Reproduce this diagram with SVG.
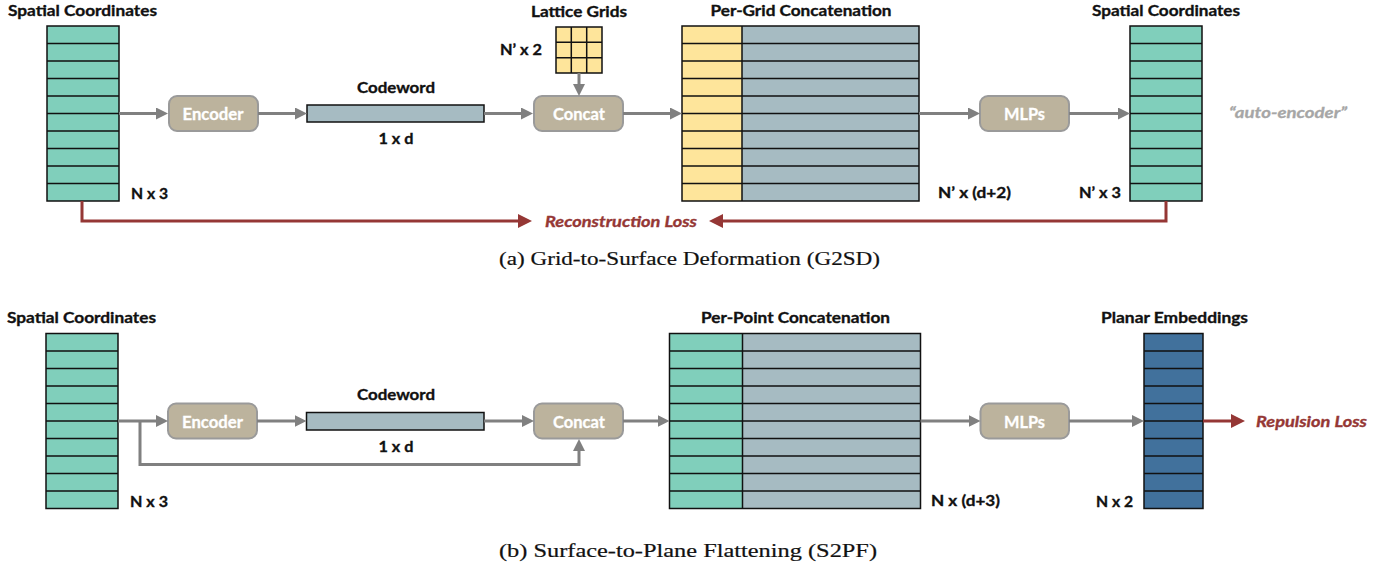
<svg xmlns="http://www.w3.org/2000/svg" width="1398" height="569" viewBox="0 0 1398 569">
<style>
.lbl{font-family:Lato,"Open Sans","Liberation Sans",sans-serif;font-weight:bold;font-size:16px;fill:#111;stroke:#111;stroke-width:0.35}
.btn{font-family:Lato,"Open Sans","Liberation Sans",sans-serif;font-weight:bold;font-size:17px;fill:#fff;stroke:#fff;stroke-width:0.3}
.loss{font-family:Lato,"Open Sans","Liberation Sans",sans-serif;font-weight:bold;font-style:italic;font-size:16px;fill:#953735;stroke:#953735;stroke-width:0.35}
.ae{font-family:Lato,"Open Sans","Liberation Sans",sans-serif;font-weight:bold;font-style:italic;font-size:16px;fill:#a6a6a6;stroke:#a6a6a6;stroke-width:0.3}
.cap{font-family:"Liberation Serif","DejaVu Serif",serif;font-size:18.5px;fill:#111;stroke:#111;stroke-width:0.2}
.box{fill:#bcb39d;stroke:#9a9a9a;stroke-width:2}
.cell{stroke:#111;stroke-width:1.5}
.green{fill:#80cfbb}
.gray{fill:#a6bbc2}
.yel{fill:#fee59b}
.blue{fill:#41719c}
.gl{fill:none;stroke:#808080;stroke-width:3}
.rl{fill:none;stroke:#953735;stroke-width:3}
</style>
<defs>
<marker id="ag" markerUnits="userSpaceOnUse" markerWidth="12" markerHeight="12" refX="4" refY="6" orient="auto">
<path d="M0,0 L12,6 L0,12 z" fill="#808080"/>
</marker>
<marker id="ar" markerUnits="userSpaceOnUse" markerWidth="14" markerHeight="14" refX="5" refY="7" orient="auto">
<path d="M0,0 L14,7 L0,14 z" fill="#953735"/>
</marker>
</defs>

<!-- ============ (a) G2SD ============ -->
<g id="a-input">
<text class="lbl" x="8" y="16" textLength="149" lengthAdjust="spacingAndGlyphs">Spatial Coordinates</text>
<rect class="green" x="47" y="26" width="72" height="175"/>
<path class="cell" fill="none" d="M47,26h72v175h-72z M47,43.5h72 M47,61h72 M47,78.5h72 M47,96h72 M47,113.5h72 M47,131h72 M47,148.5h72 M47,166h72 M47,183.5h72"/>
<text class="lbl" x="131" y="199" textLength="37" lengthAdjust="spacingAndGlyphs">N x 3</text>
</g>

<g id="a-encoder">
<rect class="box" x="169" y="96" width="89" height="35" rx="8"/>
<text class="btn" x="213" y="119.5" text-anchor="middle" textLength="61" lengthAdjust="spacingAndGlyphs">Encoder</text>
</g>

<g id="a-codeword">
<text class="lbl" x="396" y="93" text-anchor="middle" textLength="78" lengthAdjust="spacingAndGlyphs">Codeword</text>
<rect class="gray cell" x="307" y="105" width="177" height="17"/>
<text class="lbl" x="396" y="144" text-anchor="middle" textLength="35" lengthAdjust="spacingAndGlyphs">1 x d</text>
</g>

<g id="a-lattice">
<text class="lbl" x="579" y="17" text-anchor="middle" textLength="96" lengthAdjust="spacingAndGlyphs">Lattice Grids</text>
<rect class="yel" x="556" y="27" width="46" height="46"/>
<path class="cell" fill="none" d="M556,27h46v46h-46z M571.3,27v46 M586.7,27v46 M556,42.3h46 M556,57.7h46"/>
<text class="lbl" x="500" y="55" textLength="42" lengthAdjust="spacingAndGlyphs">N’ x 2</text>
</g>

<g id="a-concat">
<rect class="box" x="534" y="96" width="89" height="35" rx="8"/>
<text class="btn" x="579" y="119.5" text-anchor="middle" textLength="52" lengthAdjust="spacingAndGlyphs">Concat</text>
</g>

<g id="a-pergrid">
<text class="lbl" x="801" y="16" text-anchor="middle" textLength="181" lengthAdjust="spacingAndGlyphs">Per-Grid Concatenation</text>
<rect class="yel" x="682" y="26" width="60" height="175"/>
<rect class="gray" x="742" y="26" width="177" height="175"/>
<path class="cell" fill="none" d="M682,26h237v175h-237z M742,26v175 M682,43.5h237 M682,61h237 M682,78.5h237 M682,96h237 M682,113.5h237 M682,131h237 M682,148.5h237 M682,166h237 M682,183.5h237"/>
<text class="lbl" x="938" y="198" textLength="73" lengthAdjust="spacingAndGlyphs">N’ x (d+2)</text>
</g>

<g id="a-mlps">
<rect class="box" x="980" y="96" width="89" height="35" rx="8"/>
<text class="btn" x="1024.5" y="119.5" text-anchor="middle" textLength="41" lengthAdjust="spacingAndGlyphs">MLPs</text>
</g>

<g id="a-output">
<text class="lbl" x="1092" y="16" textLength="148" lengthAdjust="spacingAndGlyphs">Spatial Coordinates</text>
<rect class="green" x="1130" y="26" width="72" height="175"/>
<path class="cell" fill="none" d="M1130,26h72v175h-72z M1130,43.5h72 M1130,61h72 M1130,78.5h72 M1130,96h72 M1130,113.5h72 M1130,131h72 M1130,148.5h72 M1130,166h72 M1130,183.5h72"/>
<text class="lbl" x="1079" y="198" textLength="42" lengthAdjust="spacingAndGlyphs">N’ x 3</text>
<text class="ae" x="1229" y="118" textLength="118" lengthAdjust="spacingAndGlyphs">“auto-encoder”</text>
</g>

<g id="a-loss">
<text class="loss" x="545" y="227" textLength="152" lengthAdjust="spacingAndGlyphs">Reconstruction Loss</text>
</g>

<g id="a-connectors">
<line class="gl" x1="119" y1="113.5" x2="160" y2="113.5" marker-end="url(#ag)"/>
<line class="gl" x1="258" y1="113.5" x2="299" y2="113.5" marker-end="url(#ag)"/>
<line class="gl" x1="484" y1="113.5" x2="525" y2="113.5" marker-end="url(#ag)"/>
<line class="gl" x1="579" y1="73" x2="579" y2="88" marker-end="url(#ag)"/>
<line class="gl" x1="623" y1="113.5" x2="674" y2="113.5" marker-end="url(#ag)"/>
<line class="gl" x1="919" y1="113.5" x2="972" y2="113.5" marker-end="url(#ag)"/>
<line class="gl" x1="1069" y1="113.5" x2="1122" y2="113.5" marker-end="url(#ag)"/>
<path class="rl" d="M82,201 V221 H523" marker-end="url(#ar)"/>
<path class="rl" d="M1166,201 V221 H718" marker-end="url(#ar)"/>
</g>

<text class="cap" x="499" y="265" textLength="381" lengthAdjust="spacingAndGlyphs">(a)  Grid-to-Surface Deformation (G2SD)</text>

<!-- ============ (b) S2PF ============ -->
<g id="b-input">
<text class="lbl" x="7" y="323" textLength="149" lengthAdjust="spacingAndGlyphs">Spatial Coordinates</text>
<rect class="green" x="46" y="333.5" width="72" height="175"/>
<path class="cell" fill="none" d="M46,333.5h72v175h-72z M46,351h72 M46,368.5h72 M46,386h72 M46,403.5h72 M46,421h72 M46,438.5h72 M46,456h72 M46,473.5h72 M46,491h72"/>
<text class="lbl" x="130" y="507" textLength="38" lengthAdjust="spacingAndGlyphs">N x 3</text>
</g>

<g id="b-encoder">
<rect class="box" x="168" y="403.5" width="89" height="35" rx="8"/>
<text class="btn" x="212.5" y="427.5" text-anchor="middle" textLength="61" lengthAdjust="spacingAndGlyphs">Encoder</text>
</g>

<g id="b-codeword">
<text class="lbl" x="396" y="400" text-anchor="middle" textLength="78" lengthAdjust="spacingAndGlyphs">Codeword</text>
<rect class="gray cell" x="306.5" y="412.5" width="177.5" height="17.5"/>
<text class="lbl" x="396" y="452" text-anchor="middle" textLength="35" lengthAdjust="spacingAndGlyphs">1 x d</text>
</g>

<g id="b-concat">
<rect class="box" x="534" y="403.5" width="89" height="35" rx="8"/>
<text class="btn" x="579" y="427.5" text-anchor="middle" textLength="52" lengthAdjust="spacingAndGlyphs">Concat</text>
</g>

<g id="b-perpoint">
<text class="lbl" x="795.5" y="323" text-anchor="middle" textLength="189" lengthAdjust="spacingAndGlyphs">Per-Point Concatenation</text>
<rect class="green" x="669.5" y="333.5" width="73" height="175"/>
<rect class="gray" x="742.5" y="333.5" width="178" height="175"/>
<path class="cell" fill="none" d="M669.5,333.5h251v175h-251z M742.5,333.5v175 M669.5,351h251 M669.5,368.5h251 M669.5,386h251 M669.5,403.5h251 M669.5,421h251 M669.5,438.5h251 M669.5,456h251 M669.5,473.5h251 M669.5,491h251"/>
<text class="lbl" x="931" y="506" textLength="69" lengthAdjust="spacingAndGlyphs">N x (d+3)</text>
</g>

<g id="b-mlps">
<rect class="box" x="980.5" y="403.5" width="88.5" height="35" rx="8"/>
<text class="btn" x="1024.5" y="427.5" text-anchor="middle" textLength="41" lengthAdjust="spacingAndGlyphs">MLPs</text>
</g>

<g id="b-planar">
<text class="lbl" x="1101" y="323" textLength="147" lengthAdjust="spacingAndGlyphs">Planar Embeddings</text>
<rect class="blue" x="1144" y="333.5" width="59" height="175"/>
<path class="cell" fill="none" d="M1144,333.5h59v175h-59z M1144,351h59 M1144,368.5h59 M1144,386h59 M1144,403.5h59 M1144,421h59 M1144,438.5h59 M1144,456h59 M1144,473.5h59 M1144,491h59"/>
<text class="lbl" x="1096" y="507" textLength="37" lengthAdjust="spacingAndGlyphs">N x 2</text>
</g>

<g id="b-loss">
<text class="loss" x="1256" y="427" textLength="111" lengthAdjust="spacingAndGlyphs">Repulsion Loss</text>
</g>

<g id="b-connectors">
<line class="gl" x1="118" y1="421" x2="160" y2="421" marker-end="url(#ag)"/>
<path class="gl" d="M140,421 V464.5 H579 V447" marker-end="url(#ag)"/>
<line class="gl" x1="257" y1="421" x2="298.5" y2="421" marker-end="url(#ag)"/>
<line class="gl" x1="484" y1="421" x2="526" y2="421" marker-end="url(#ag)"/>
<line class="gl" x1="623" y1="421" x2="661.5" y2="421" marker-end="url(#ag)"/>
<line class="gl" x1="920.5" y1="421" x2="972.5" y2="421" marker-end="url(#ag)"/>
<line class="gl" x1="1069" y1="421" x2="1136" y2="421" marker-end="url(#ag)"/>
<line class="rl" x1="1203" y1="421" x2="1236" y2="421" marker-end="url(#ar)"/>
</g>

<text class="cap" x="499" y="557" textLength="378" lengthAdjust="spacingAndGlyphs">(b)  Surface-to-Plane Flattening (S2PF)</text>
</svg>
